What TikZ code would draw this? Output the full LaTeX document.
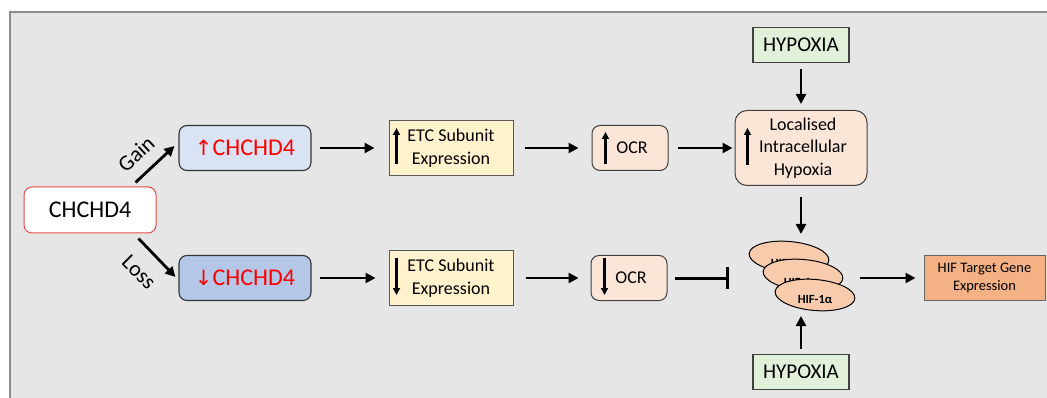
\documentclass[tikz,border=0pt]{standalone}
\usepackage{fontspec}
\setmainfont{Carlito}
\newfontfamily\symf{DejaVu Sans}
\usetikzlibrary{arrows.meta,calc,shapes.geometric}
\definecolor{bgc}{HTML}{E6E6E6}
\definecolor{framec}{HTML}{8C8C8C}
\definecolor{upc}{HTML}{DAE3F3}
\definecolor{downc}{HTML}{B4C7E7}
\definecolor{etcc}{HTML}{FFF2CC}
\definecolor{ocrc}{HTML}{FBE5D6}
\definecolor{hypc}{HTML}{E2F0D9}
\definecolor{hifc}{HTML}{F8CBAD}
\definecolor{tgtc}{HTML}{F4B183}
\definecolor{redc}{HTML}{FF0000}
\definecolor{mainborder}{HTML}{E84A4A}
\tikzset{
  arr/.style={line width=2.8pt,-{Triangle[length=10pt,width=10pt]}},
  minarr/.style={line width=2.6pt,-{Triangle[length=7pt,width=7pt]}},
  inh/.style={line width=3pt,-{Bar[width=22pt,line width=3pt]}},
  f18/.style={font=\fontsize{18}{22.5}\selectfont},
  mainbox/.style={draw=mainborder,line width=1pt,fill=white,rounded corners=8pt,minimum width=132pt,minimum height=46pt,inner sep=0pt,font=\fontsize{24}{28}\selectfont},
  chbox/.style={draw=black!80,line width=1.1pt,rounded corners=8pt,minimum width=132pt,minimum height=45pt,inner sep=0pt,font=\fontsize{24}{28}\selectfont,text=redc},
  etcbox/.style={draw=black!65,line width=1pt,fill=etcc,minimum width=124pt,minimum height=55pt,inner sep=0pt,align=center,f18},
  ocrbox/.style={draw=black!75,line width=1pt,fill=ocrc,rounded corners=8pt,minimum width=76pt,minimum height=45pt,inner sep=0pt,f18},
  hypbox/.style={draw=black!75,line width=1.1pt,fill=hypc,minimum width=96pt,minimum height=35pt,inner sep=0pt,font=\fontsize{21}{25}\selectfont},
  hifell/.style={ellipse,draw=black,line width=1pt,fill=hifc,minimum width=80pt,minimum height=31pt,inner sep=0pt,rotate=-5},
  hiftxt/.style={inner sep=0pt,font=\bfseries\fontsize{12.5}{15}\selectfont},
  lbl/.style={font=\fontsize{22}{26}\selectfont},
}
\begin{document}
\begin{tikzpicture}[x=1pt,y=-1pt]
\useasboundingbox (0,0) rectangle (1047,398);
\begin{scope}
\clip (0,0) rectangle (1047,398);
\draw[fill=bgc,draw=framec,line width=1.6pt] (10,12) rectangle (1070,420);
\end{scope}

% main
\node[mainbox] (main) at (90,210) {CHCHD4};
\node[chbox,fill=upc] (up) at (245,148) {{\symf\fontsize{21}{25}\selectfont ↑}CHCHD4};
\node[chbox,fill=downc] (down) at (245,278) {{\symf\fontsize{21}{25}\selectfont ↓}CHCHD4};

\draw[arr] ($(main.north east)+(-21,-4)$) -- ($(up.south west)+(-4,-25)$);
\draw[arr] ($(main.south east)+(-18,5)$) -- ($(down.north west)+(-3,22)$);
\node[lbl,rotate=43] (gain) at (136,154) {Gain};
\node[lbl,rotate=-45] (loss) at (139,272) {Loss};

% ETC
\node[etcbox] (etc1) at (451,148) {ETC Subunit\\Expression};
\node[etcbox] (etc2) at (451,278) {ETC Subunit\\Expression};
\coordinate (e1a) at ($(etc1.west)+(8,16)$);
\coordinate (e1b) at ($(etc1.west)+(8,-20)$);
\draw[minarr] (e1a) -- (e1b);
\coordinate (e2a) at ($(etc2.west)+(8,-20)$);
\coordinate (e2b) at ($(etc2.west)+(8,17)$);
\draw[minarr] (e2a) -- (e2b);

% OCR
\node[ocrbox] (ocr1) at (630,148) {\hspace*{4pt}OCR};
\node[ocrbox] (ocr2) at (629,278) {\hspace*{4pt}OCR};
\coordinate (o1a) at ($(ocr1.west)+(14,16)$);
\coordinate (o1b) at ($(ocr1.west)+(14,-16)$);
\draw[minarr] (o1a) -- (o1b);
\coordinate (o2a) at ($(ocr2.west)+(14,-20)$);
\coordinate (o2b) at ($(ocr2.west)+(14,17)$);
\draw[minarr] (o2a) -- (o2b);

% Localised
\node[ocrbox,rounded corners=12pt,minimum width=132pt,minimum height=75pt,align=center] (loc) at (801,148) {\hspace*{4pt}Localised\\\hspace*{4pt}Intracellular\\\hspace*{4pt}Hypoxia};
\coordinate (la) at ($(loc.west)+(13,17)$);
\coordinate (lb) at ($(loc.west)+(13,-20)$);
\draw[minarr] (la) -- (lb);

% Hypoxia
\node[hypbox] (hyp1) at (801,45) {HYPOXIA};
\node[hypbox] (hyp2) at (801,372) {HYPOXIA};

% HIF
\node[hifell] (hifa) at (789,257) {};
\node[hiftxt] (hifat) at (788,263) {HIF-1α};
\node[hifell] (hifb) at (803,275) {};
\node[hiftxt] (hifbt) at (801,282) {HIF-1α};
\node[hifell] (hifc) at (815,295) {};
\node[hiftxt] (hifct) at (815,299) {HIF-1α};
\coordinate (hifin) at (801,234);
\coordinate (hifbot) at (801,316);
\coordinate (bar) at (729,278);
\coordinate (hifout) at (860,278);

\node[draw=black!60,line width=1pt,fill=tgtc,minimum width=121pt,minimum height=45pt,inner sep=0pt,align=center,font=\fontsize{14.5}{17.5}\selectfont] (tgt) at (984.5,278) {HIF Target Gene\\Expression};

% connectors
\draw[arr] ($(up.east)+(8,0)$) -- ($(etc1.west)+(-14,0)$);
\draw[arr] ($(down.east)+(8,0)$) -- ($(etc2.west)+(-13,0)$);
\draw[arr] ($(etc1.east)+(11,0)$) -- ($(ocr1.west)+(-13,0)$);
\draw[arr] ($(etc2.east)+(12,0)$) -- ($(ocr2.west)+(-12,0)$);
\draw[arr] ($(ocr1.east)+(9,0)$) -- ($(loc.west)+(-2,0)$);
\draw[inh] ($(ocr2.east)+(7,0)$) -- (bar);
\draw[arr] ($(hyp1.south)+(0,6)$) -- ($(loc.north)+(0,-6)$);
\draw[arr] ($(loc.south)+(0,11)$) -- (hifin);
\draw[arr] ($(hyp2.north)+(0,-5)$) -- (hifbot);
\draw[arr] (hifout) -- ($(tgt.west)+(-8,0)$);
\end{tikzpicture}
\end{document}
